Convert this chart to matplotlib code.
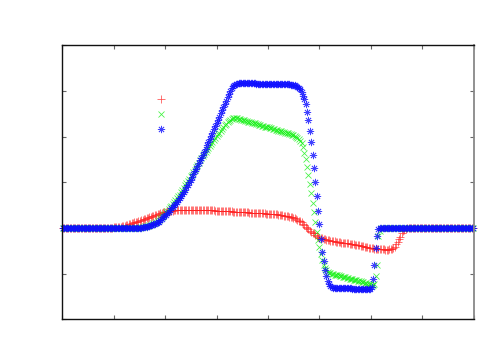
import numpy as np
import matplotlib
matplotlib.use("Agg")
import matplotlib.pyplot as plt

# Grid: 300 uniformly spaced cells on an x axis running 0..8 (no labels shown)
N_CELLS = 300
X_MIN, X_MAX = 0.0, 8.0
Y_MIN, Y_MAX = -2.0, 4.0
x_ticks = [0, 1, 2, 3, 4, 5, 6, 7, 8]
y_ticks = [-2, -1, 0, 1, 2, 3, 4]

red_vals = [
    0, 0, 0, 0, 0, 0, 0, 0, 0, 0, 0, 0, 0, 0, 0, 0, 0, 0, 0, 0,
    0, 0, 0, 0, 0, 0, 0, 0, 0, 0, 0, 0, 0, 0,
    0.01, 0.01, 0.01, 0.02, 0.02, 0.02, 0.03, 0.03, 0.03, 0.04, 0.04,
    0.05, 0.06, 0.07, 0.08, 0.09, 0.10, 0.11, 0.12, 0.13, 0.14, 0.15, 0.16, 0.17, 0.18, 0.19, 0.20, 0.21, 0.22, 0.23,
    0.25, 0.26, 0.27, 0.28, 0.29, 0.30, 0.31, 0.32, 0.33, 0.34, 0.35, 0.36, 0.37,
    0.37, 0.38, 0.38, 0.38, 0.39,
    0.39, 0.39, 0.39, 0.39, 0.39, 0.39, 0.39, 0.39, 0.39, 0.39, 0.39, 0.39, 0.39, 0.39, 0.39,
    0.39, 0.39, 0.39, 0.39, 0.39, 0.39, 0.39, 0.39, 0.39, 0.39, 0.39, 0.39, 0.39, 0.39,
    0.38, 0.38, 0.38, 0.38, 0.38, 0.38, 0.38, 0.38, 0.38, 0.38,
    0.37, 0.37, 0.37, 0.36, 0.36, 0.36, 0.35, 0.35, 0.35, 0.34,
    0.34, 0.34, 0.34, 0.34, 0.34, 0.33, 0.33, 0.33, 0.33, 0.33,
    0.33, 0.32, 0.32, 0.32, 0.32, 0.32, 0.32, 0.31, 0.31, 0.31,
    0.31, 0.31, 0.30, 0.30, 0.30, 0.30, 0.29, 0.29, 0.28, 0.28,
    0.27, 0.27, 0.26, 0.26, 0.25, 0.24, 0.23, 0.22, 0.21, 0.19,
    0.17, 0.16, 0.15, 0.12, 0.09, 0.06, 0.03, 0.00, -0.03, -0.06,
    -0.08, -0.10, -0.12, -0.15, -0.17, -0.19, -0.21, -0.22, -0.23, -0.24,
    -0.25, -0.26, -0.27, -0.27, -0.28, -0.28, -0.29, -0.29, -0.30, -0.30,
    -0.31, -0.31, -0.32, -0.32, -0.33, -0.33, -0.34, -0.34, -0.35, -0.35,
    -0.36, -0.36, -0.37, -0.37, -0.38, -0.38, -0.39, -0.40, -0.40, -0.41,
    -0.42, -0.42, -0.43, -0.43, -0.44, -0.44, -0.45, -0.45, -0.46, -0.46,
    -0.46, -0.47, -0.47, -0.47, -0.48, -0.48, -0.48, -0.47, -0.47, -0.46,
    -0.44, -0.41, -0.36, -0.31, -0.25, -0.19, -0.12, -0.07, -0.04, -0.02, -0.01,
    0, 0, 0, 0, 0, 0, 0, 0, 0, 0, 0, 0, 0, 0, 0, 0, 0, 0, 0, 0, 0, 0, 0, 0,
    0, 0, 0, 0, 0, 0, 0, 0, 0, 0, 0, 0, 0, 0, 0, 0, 0, 0, 0, 0, 0, 0, 0, 0,
]

green_vals = [
    0, 0, 0, 0, 0, 0, 0, 0, 0, 0, 0, 0, 0, 0, 0, 0, 0, 0, 0, 0,
    0, 0, 0, 0, 0, 0, 0, 0, 0, 0, 0, 0, 0, 0, 0, 0, 0, 0, 0, 0,
    0, 0, 0, 0, 0, 0, 0, 0, 0, 0, 0, 0, 0, 0, 0,
    0.01, 0.01, 0.02, 0.02, 0.03, 0.04, 0.04, 0.05, 0.06, 0.07, 0.08, 0.10, 0.11, 0.13, 0.15,
    0.18, 0.21, 0.24, 0.27, 0.30, 0.34, 0.37, 0.41, 0.45, 0.49, 0.53, 0.57, 0.61, 0.65, 0.69,
    0.73, 0.78, 0.83, 0.88, 0.93, 0.98, 1.03, 1.08, 1.13, 1.17,
    1.22, 1.28, 1.33, 1.38, 1.43, 1.48, 1.53, 1.57, 1.62, 1.66,
    1.71, 1.75, 1.80, 1.84, 1.88, 1.92, 1.97, 2.01, 2.05, 2.09,
    2.13, 2.17, 2.21, 2.25, 2.28, 2.31, 2.34, 2.37, 2.39, 2.40, 2.41, 2.41,
    2.40, 2.39, 2.38, 2.37, 2.37, 2.36, 2.35, 2.34, 2.33, 2.32,
    2.31, 2.30, 2.29, 2.29, 2.28, 2.27, 2.26, 2.25, 2.24, 2.23,
    2.22, 2.21, 2.21, 2.20, 2.19, 2.18, 2.17, 2.16, 2.15, 2.14,
    2.13, 2.13, 2.12, 2.11, 2.10, 2.09, 2.08, 2.07, 2.06, 2.05,
    2.04, 2.03, 2.02,
    2.00, 1.98, 1.95, 1.91, 1.86, 1.77, 1.65, 1.51, 1.34, 1.16,
    0.97, 0.76, 0.54, 0.34, 0.12, -0.08, -0.26, -0.41, -0.56, -0.70,
    -0.81, -0.88, -0.93, -0.96, -0.98, -0.99,
    -1.00, -1.01, -1.02, -1.02, -1.03, -1.04, -1.05, -1.06, -1.07, -1.07,
    -1.08, -1.09, -1.10, -1.11, -1.12, -1.12, -1.13, -1.14, -1.15, -1.16,
    -1.17, -1.17, -1.18, -1.19, -1.20, -1.21, -1.22, -1.22, -1.23, -1.24, -1.25,
    -1.22, -1.05, -0.80, -0.18, -0.07,
    0, 0, 0, 0, 0, 0, 0, 0, 0, 0, 0, 0, 0, 0, 0, 0, 0, 0, 0, 0,
    0, 0, 0, 0, 0, 0, 0, 0, 0, 0, 0, 0, 0, 0, 0, 0, 0, 0, 0, 0,
    0, 0, 0, 0, 0, 0, 0, 0, 0, 0, 0, 0, 0, 0, 0, 0, 0, 0, 0, 0,
    0, 0, 0, 0, 0, 0, 0, 0,
]

blue_vals = [
    0, 0, 0, 0, 0, 0, 0, 0, 0, 0, 0, 0, 0, 0, 0, 0, 0, 0, 0, 0,
    0, 0, 0, 0, 0, 0, 0, 0, 0, 0, 0, 0, 0, 0, 0, 0, 0, 0, 0, 0,
    0, 0, 0, 0, 0, 0, 0, 0, 0, 0, 0, 0, 0, 0, 0, 0,
    0.01, 0.01, 0.02, 0.02, 0.03, 0.03, 0.04, 0.05, 0.06, 0.07,
    0.08, 0.09, 0.10, 0.12, 0.14, 0.17, 0.20, 0.23, 0.26, 0.29,
    0.32, 0.35, 0.39, 0.43, 0.46, 0.50, 0.53, 0.57, 0.61, 0.65,
    0.69, 0.74, 0.79, 0.84, 0.89, 0.95, 1.00, 1.06, 1.12, 1.18,
    1.24, 1.30, 1.36, 1.42, 1.48, 1.54, 1.60, 1.67, 1.74, 1.81,
    1.88, 1.95, 2.02, 2.09, 2.16, 2.23, 2.30, 2.37, 2.44, 2.51,
    2.58, 2.65, 2.72, 2.79, 2.86, 2.93, 3.00, 3.06, 3.11, 3.14,
    3.16, 3.16,
    3.17, 3.17, 3.17, 3.17, 3.17, 3.17, 3.17, 3.17, 3.17, 3.17, 3.17, 3.17, 3.17,
    3.16, 3.16, 3.16, 3.16, 3.16, 3.16, 3.16, 3.16, 3.16, 3.16, 3.16, 3.16, 3.16, 3.16, 3.16,
    3.15, 3.15, 3.15, 3.15, 3.15, 3.15, 3.15, 3.15, 3.15, 3.15,
    3.14, 3.14, 3.13, 3.12, 3.11, 3.09, 3.07,
    3.05, 2.98, 2.90, 2.82, 2.71, 2.55, 2.36, 2.13, 1.88, 1.60,
    1.31, 1.00, 0.69, 0.38, 0.08, -0.25, -0.52, -0.73, -0.92, -1.06,
    -1.16, -1.23, -1.27, -1.30, -1.31,
    -1.32, -1.32, -1.32, -1.32, -1.32, -1.32, -1.32, -1.32, -1.32, -1.32, -1.32, -1.32, -1.32,
    -1.33, -1.33, -1.33, -1.33, -1.33, -1.33, -1.33, -1.33, -1.33, -1.33, -1.33, -1.33,
    -1.34, -1.34,
    -1.30, -1.11, -0.81, -0.44, -0.17, -0.02,
    0, 0, 0, 0, 0, 0, 0, 0, 0, 0, 0, 0, 0, 0, 0, 0, 0, 0, 0, 0,
    0, 0, 0, 0, 0, 0, 0, 0, 0, 0, 0, 0, 0, 0, 0, 0, 0, 0, 0, 0,
    0, 0, 0, 0, 0, 0, 0, 0, 0, 0, 0, 0, 0, 0, 0, 0, 0, 0, 0, 0,
    0, 0, 0, 0, 0, 0, 0, 0, 0,
]

assert len(red_vals) == N_CELLS, len(red_vals)
assert len(green_vals) == N_CELLS, len(green_vals)
assert len(blue_vals) == N_CELLS, len(blue_vals)

# cell centres of the uniform grid
x = X_MIN + (np.arange(N_CELLS) + 0.5) * (X_MAX - X_MIN) / N_CELLS

RED = "#ff2020"
GREEN = "#10f010"
BLUE = "#1010ff"
ASTERISK = (8, 2, 0)

fig = plt.figure(figsize=(5.0, 3.5), dpi=100)
ax = fig.add_axes([0.1246, 0.0877, 0.8228, 0.7829])

ms = 5.2
mew = 0.55
ALPHA = 0.8
ax.plot(x, red_vals, linestyle="none", marker="+", ms=ms, mew=mew, color=RED,
        alpha=ALPHA, clip_on=False)
ax.plot(x, green_vals, linestyle="none", marker="x", ms=ms * 0.8, mew=mew, color=GREEN,
        alpha=ALPHA, clip_on=False)
ax.plot(x, blue_vals, linestyle="none", marker=ASTERISK, ms=ms, mew=mew, color=BLUE,
        alpha=ALPHA, clip_on=False)

ax.set_xlim(X_MIN, X_MAX)
ax.set_ylim(Y_MIN, Y_MAX)
ax.set_xticks(x_ticks)
ax.set_yticks(y_ticks)
ax.set_xticklabels([])
ax.set_yticklabels([])
ax.tick_params(direction="in", length=3.0, width=0.8, color="#666666",
               top=True, right=True, bottom=True, left=True)

for side in ["left", "top", "bottom"]:
    ax.spines[side].set_color("#111111")
    ax.spines[side].set_linewidth(1.0)
ax.spines["right"].set_color("#888888")
ax.spines["right"].set_linewidth(1.3)

# key (gnuplot-style, empty titles)
key_x = 0.24
key_ys = [0.804, 0.749, 0.695]
ax.plot([key_x], [key_ys[0]], transform=ax.transAxes, linestyle="none", marker="+",
        ms=ms, mew=mew, color=RED, alpha=ALPHA, clip_on=False)
ax.plot([key_x], [key_ys[1]], transform=ax.transAxes, linestyle="none", marker="x",
        ms=ms * 0.8, mew=mew, color=GREEN, alpha=ALPHA, clip_on=False)
ax.plot([key_x], [key_ys[2]], transform=ax.transAxes, linestyle="none", marker=ASTERISK,
        ms=ms, mew=mew, color=BLUE, alpha=ALPHA, clip_on=False)

fig.savefig("out.png", dpi=100)
